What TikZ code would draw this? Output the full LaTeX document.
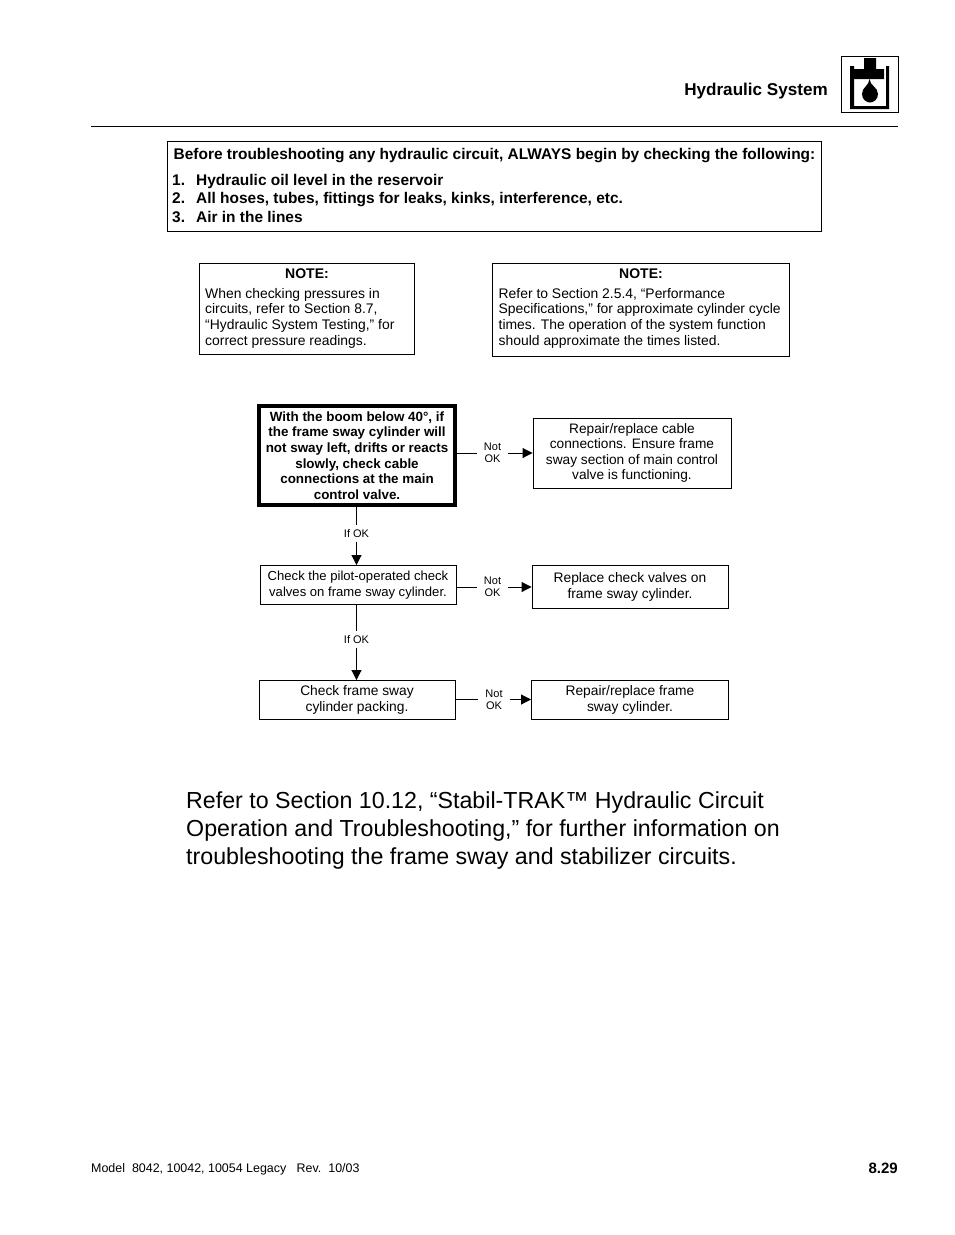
\documentclass[tikz,border=0pt]{standalone}
\usepackage{fontspec}
\setmainfont{Liberation Sans}
\usetikzlibrary{arrows.meta}
\newcommand{\fs}[2]{\fontsize{#1pt}{#2pt}\selectfont}
\tikzset{
 x=1pt,y=-1pt,
 box/.style={draw=black,line width=0.9pt,inner sep=0pt,align=center,anchor=center,font=\fs{13.8}{15.6}},
 boldbox/.style={box,line width=3.2pt,font=\fs{13.4}{15.6}\bfseries},
 lab/.style={inner sep=0pt,align=center,font=\fs{11}{12}},
 link/.style={line width=0.9pt},
 arr/.style={line width=0.9pt,-{Triangle[length=10pt,width=10pt]}},
 txt/.style={inner sep=0pt,anchor=base west},
}
\begin{document}
\begin{tikzpicture}
\useasboundingbox (0,0) rectangle (954,1235);
% header
\node[txt,anchor=base east,font=\fs{17.1}{18}\bfseries] (title) at (828,95) {Hydraulic System};
\node[draw=black,line width=0.9pt,minimum width=57pt,minimum height=56pt,inner sep=0pt] (icon) at (869.5,84.5) {};
\fill (850,66) rectangle (854,109) (854,106) rectangle (886,109) (886,66) rectangle (889,109);
\fill (864,58) rectangle (876,69) (854,69) rectangle (884,79);
\fill (869.5,79) .. controls (870,86) and (878,87) .. (878,94) .. controls (878,100) and (873,102.5) .. (870,102.5)
 .. controls (867,102.5) and (862,100) .. (862,94) .. controls (862,87) and (869,86) .. (869.5,79) -- cycle;
\coordinate (ruleL) at (91,126.5);
\coordinate (ruleR) at (898,126.5);
\draw[line width=0.9pt] (ruleL) -- (ruleR);
% top box
\node[draw=black,line width=0.9pt,minimum width=654pt,minimum height=90pt,inner sep=0pt] (top) at (494.5,186.5) {};
\begin{scope}[every node/.style={txt,font=\fs{15.45}{16}\bfseries}]
\node (t0) at (173.5,159) {Before troubleshooting any hydraulic circuit, ALWAYS begin by checking the following:};
\node (t1) at (172,185) {1.};
\node (t1b) at (196,185) {Hydraulic oil level in the reservoir};
\node (t2) at (172,203) {2.};
\node (t2b) at (196,203) {All hoses, tubes, fittings for leaks, kinks, interference, etc.};
\node (t3) at (172,222) {3.};
\node (t3b) at (196,222) {Air in the lines};
\end{scope}
% notes
\node[draw=black,line width=0.9pt,minimum width=215pt,minimum height=91pt] (n1) at (307,309) {};
\node[txt,anchor=base,font=\fs{14}{15.6}\bfseries] (n1h) at (307,278) {NOTE:};
\node[txt,align=left,anchor=north west,font=\fs{13.9}{15.6}] (n1t) at (205,288) {When checking pressures in\\circuits, refer to Section 8.7,\\“Hydraulic System Testing,” for\\correct pressure readings.};
\node[draw=black,line width=0.9pt,minimum width=297pt,minimum height=93pt] (n2) at (641,310) {};
\node[txt,anchor=base,font=\fs{14}{15.6}\bfseries] (n2h) at (641,278) {NOTE:};
\node[txt,align=left,anchor=north west,font=\fs{13.9}{15.6}] (n2t) at (498.5,288) {Refer to Section 2.5.4, “Performance\\Specifications,” for approximate cylinder cycle\\times. The operation of the system function\\should approximate the times listed.};
% flow
\node[boldbox,minimum width=196pt,minimum height=99pt] (a) at (357,455.5) {With the boom below 40°, if\\the frame sway cylinder will\\not sway left, drifts or reacts\\slowly, check cable\\connections at the main\\control valve.};
\node[box,font=\fs{13.7}{15.6},minimum width=198pt,minimum height=70pt] (ar) at (632,453) {Repair/replace cable\\connections. Ensure frame\\sway section of main control\\valve is functioning.};
\node[box,font=\fs{13.1}{15.4},minimum width=196pt,minimum height=39pt] (b) at (358,585) {Check the pilot-operated check\\valves on frame sway cylinder.};
\node[box,minimum width=196pt,minimum height=43pt] (br) at (630,587) {Replace check valves on\\frame sway cylinder.};
\node[box,minimum width=196pt,minimum height=39pt] (c) at (357,700) {Check frame sway\\cylinder packing.};
\node[box,minimum width=197pt,minimum height=39pt] (cr) at (630,700) {Repair/replace frame\\sway cylinder.};
% labels
\node[lab,minimum width=31pt] (l1) at (492.5,453) {Not\\OK};
\node[lab,minimum width=31pt] (l2) at (492.5,587) {Not\\OK};
\node[lab,minimum width=31pt] (l3) at (494,699.5) {Not\\OK};
\node[lab,minimum height=16pt] (o1) at (356.5,533.5) {If OK};
\node[lab,minimum height=16pt] (o2) at (356.5,639.5) {If OK};
% connectors
\draw[link] (l1 -| a.east) -- (l1.west);
\draw[arr] (l1.east) -- (l1 -| ar.west);
\draw[link] (l2 -| b.east) -- (l2.west);
\draw[arr] (l2.east) -- (l2 -| br.west);
\draw[link] (l3 -| c.east) -- (l3.west);
\draw[arr] (l3.east) -- (l3 -| cr.west);
\draw[link] (a.south -| o1) -- (o1.north);
\draw[arr] (o1.south) -- (b.north -| o1);
\draw[link] (b.south -| o2) -- (o2.north);
\draw[arr] (o2.south) -- (c.north -| o2);
% paragraph
\node[txt,font=\fs{23.2}{28}] (p1) at (186,808.5) {Refer to Section 10.12, “Stabil-TRAK™ Hydraulic Circuit};
\node[txt,font=\fs{23.2}{28}] (p2) at (186,836.5) {Operation and Troubleshooting,” for further information on};
\node[txt,font=\fs{23.2}{28}] (p3) at (186,864.5) {troubleshooting the frame sway and stabilizer circuits.};
% footer
\node[txt,font=\fs{12.45}{14}] (f1) at (91,1172) {Model\ \ 8042, 10042, 10054 Legacy\ \ \ Rev.\ \ 10/03};
\node[txt,anchor=base east,font=\fs{15}{16}\bfseries] (f2) at (898,1173) {8.29};
\end{tikzpicture}
\end{document}
